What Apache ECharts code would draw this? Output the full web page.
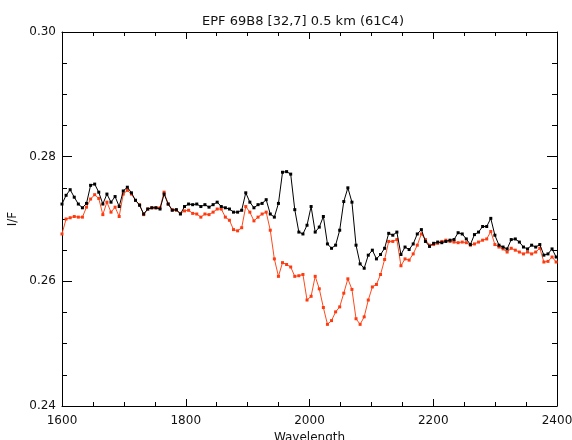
<!DOCTYPE html>
<html>
<head>
<meta charset="utf-8">
<script src="https://cdn.jsdelivr.net/npm/echarts@6/dist/echarts.min.js"></script>
<style>
html,body{margin:0;padding:0;background:#fff;}
#c{width:572px;height:440px;}
</style>
</head>
<body>
<div id="c"></div>
<script>
var titleText = 'EPF 69B8 [32,7] 0.5 km (61C4)';
var xName = 'Wavelength';
var yName = 'I/F';

var wavelengths = [
1600.0,1606.6,1613.2,1619.8,1626.4,1633.0,1639.6,1646.2,1652.8,1659.4,
1666.0,1672.6,1679.2,1685.8,1692.4,1699.0,1705.6,1712.2,1718.8,1725.4,
1732.0,1738.6,1745.2,1751.8,1758.4,1765.0,1771.6,1778.2,1784.8,1791.4,
1798.0,1804.6,1811.2,1817.8,1824.4,1831.0,1837.6,1844.2,1850.8,1857.4,
1864.0,1870.6,1877.2,1883.8,1890.4,1897.0,1903.6,1910.2,1916.8,1923.4,
1930.0,1936.6,1943.2,1949.8,1956.4,1963.0,1969.6,1976.2,1982.8,1989.4,
1996.0,2002.6,2009.2,2015.8,2022.4,2029.0,2035.6,2042.2,2048.8,2055.4,
2062.0,2068.6,2075.2,2081.8,2088.4,2095.0,2101.6,2108.2,2114.8,2121.4,
2128.0,2134.6,2141.2,2147.8,2154.4,2161.0,2167.6,2174.2,2180.8,2187.4,
2194.0,2200.6,2207.2,2213.8,2220.4,2227.0,2233.6,2240.2,2246.8,2253.4,
2260.0,2266.6,2273.2,2279.8,2286.4,2293.0,2299.6,2306.2,2312.8,2319.4,
2326.0,2332.6,2339.2,2345.8,2352.4,2359.0,2365.6,2372.2,2378.8,2385.4,
2392.0,2398.6
];

var blackSeries = [
0.2724,0.2738,0.2747,0.2735,0.2724,0.2718,0.2725,0.2754,0.2756,0.2743,
0.2724,0.2740,0.2727,0.2736,0.2720,0.2745,0.2751,0.2742,0.2730,0.2722,
0.2708,0.2716,0.2718,0.2718,0.2716,0.2740,0.2724,0.2714,0.2715,0.2708,
0.2720,0.2724,0.2723,0.2724,0.2720,0.2723,0.2719,0.2723,0.2727,0.2720,
0.2718,0.2716,0.2711,0.2711,0.2714,0.2742,0.2727,0.2718,0.2723,0.2725,
0.2731,0.2708,0.2703,0.2725,0.2775,0.2776,0.2772,0.2715,0.2679,0.2676,
0.2690,0.2720,0.2679,0.2687,0.2704,0.2660,0.2653,0.2658,0.2682,0.2728,
0.2750,0.2727,0.2658,0.2628,0.2621,0.2642,0.2650,0.2636,0.2643,0.2653,
0.2677,0.2674,0.2679,0.2643,0.2655,0.2651,0.2660,0.2676,0.2683,0.2664,
0.2656,0.2661,0.2663,0.2662,0.2664,0.2666,0.2667,0.2678,0.2676,0.2668,
0.2659,0.2675,0.2679,0.2688,0.2688,0.2701,0.2674,0.2658,0.2655,0.2652,
0.2667,0.2668,0.2663,0.2655,0.2652,0.2658,0.2655,0.2659,0.2642,0.2644,
0.2652,0.2639
];

var redSeries = [
0.2676,0.2700,0.2702,0.2704,0.2703,0.2703,0.2719,0.2732,0.2739,0.2733,
0.2707,0.2727,0.2711,0.2719,0.2704,0.2740,0.2746,0.2740,0.2730,0.2723,
0.2707,0.2716,0.2718,0.2718,0.2718,0.2743,0.2724,0.2715,0.2714,0.2709,
0.2713,0.2714,0.2709,0.2708,0.2703,0.2708,0.2707,0.2711,0.2716,0.2716,
0.2703,0.2698,0.2683,0.2681,0.2686,0.2720,0.2711,0.2697,0.2703,0.2708,
0.2711,0.2682,0.2636,0.2608,0.2630,0.2627,0.2623,0.2608,0.2609,0.2611,
0.2570,0.2576,0.2608,0.2588,0.2558,0.2531,0.2537,0.2551,0.2559,0.2581,
0.2604,0.2587,0.2540,0.2531,0.2543,0.2570,0.2591,0.2595,0.2611,0.2635,
0.2664,0.2664,0.2667,0.2625,0.2636,0.2634,0.2644,0.2658,0.2676,0.2667,
0.2658,0.2659,0.2661,0.2664,0.2666,0.2664,0.2663,0.2662,0.2663,0.2662,
0.2658,0.2660,0.2663,0.2666,0.2668,0.2680,0.2659,0.2655,0.2652,0.2647,
0.2653,0.2650,0.2647,0.2644,0.2647,0.2644,0.2647,0.2653,0.2631,0.2632,
0.2639,0.2631
];

var xTicks = {min: 1600, max: 2400, step: 200};
var yTicks = {min: 0.24, max: 0.30, step: 0.02};

var FONT = 'DejaVu Sans';
var TXT = '#111';

function pairs(vals){ return wavelengths.map(function(w,i){ return [w, vals[i]]; }); }

function xAx(pos, show){
  return {
    type:'value', position:pos, min:xTicks.min, max:xTicks.max, interval:xTicks.step,
    axisLine:{show:true, onZero:false, lineStyle:{color:'#000', width:1}},
    axisTick:{show:true, inside:true, length:7, lineStyle:{color:'#000', width:1}},
    minorTick:{show:true, splitNumber:4, length:4, lineStyle:{color:'#000', width:1}},
    splitLine:{show:false}, minorSplitLine:{show:false},
    axisLabel:{show:show, margin:9, fontSize:12, fontFamily:FONT, color:TXT,
      formatter:function(v){ return String(v); }},
    name: show ? xName : '', nameLocation:'middle', nameGap:26,
    nameTextStyle:{fontSize:12, fontFamily:FONT, color:TXT}
  };
}
function yAx(pos, show){
  return {
    type:'value', position:pos, min:yTicks.min, max:yTicks.max, interval:yTicks.step,
    axisLine:{show:true, onZero:false, lineStyle:{color:'#000', width:1}},
    axisTick:{show:true, inside:true, length:10, lineStyle:{color:'#000', width:1}},
    minorTick:{show:true, splitNumber:4, length:5, lineStyle:{color:'#000', width:1}},
    splitLine:{show:false}, minorSplitLine:{show:false},
    axisLabel:{show:show, margin:6, fontSize:12, fontFamily:FONT, color:TXT,
      formatter:function(v){ return v.toFixed(2); }},
    name: show ? yName : '', nameLocation:'middle', nameGap:41, nameRotate:90,
    nameTextStyle:{fontSize:12, fontFamily:FONT, color:TXT}
  };
}

var chart = echarts.init(document.getElementById('c'), null, {renderer:'canvas'});
chart.setOption({
  animation:false,
  backgroundColor:'#fff',
  title:{text:titleText, left:298, top:10, textAlign:'center',
    textStyle:{fontSize:13, fontWeight:'normal', fontFamily:FONT, color:TXT}},
  grid:{left:62, right:15, top:32, bottom:34, containLabel:false, outerBoundsMode:'none'},
  xAxis:[xAx('bottom', true), xAx('top', false)],
  yAxis:[yAx('left', true), yAx('right', false)],
  series:[
    {type:'line', data:pairs(blackSeries), symbol:'rect', symbolSize:3, showAllSymbol:true,
     lineStyle:{color:'#000', width:1}, itemStyle:{color:'#000'}, z:3},
    {type:'line', data:pairs(redSeries), symbol:'rect', symbolSize:3, showAllSymbol:true,
     lineStyle:{color:'#ff4a1c', width:1}, itemStyle:{color:'#ff3a10'}, z:2}
  ]
});
</script>
</body>
</html>
